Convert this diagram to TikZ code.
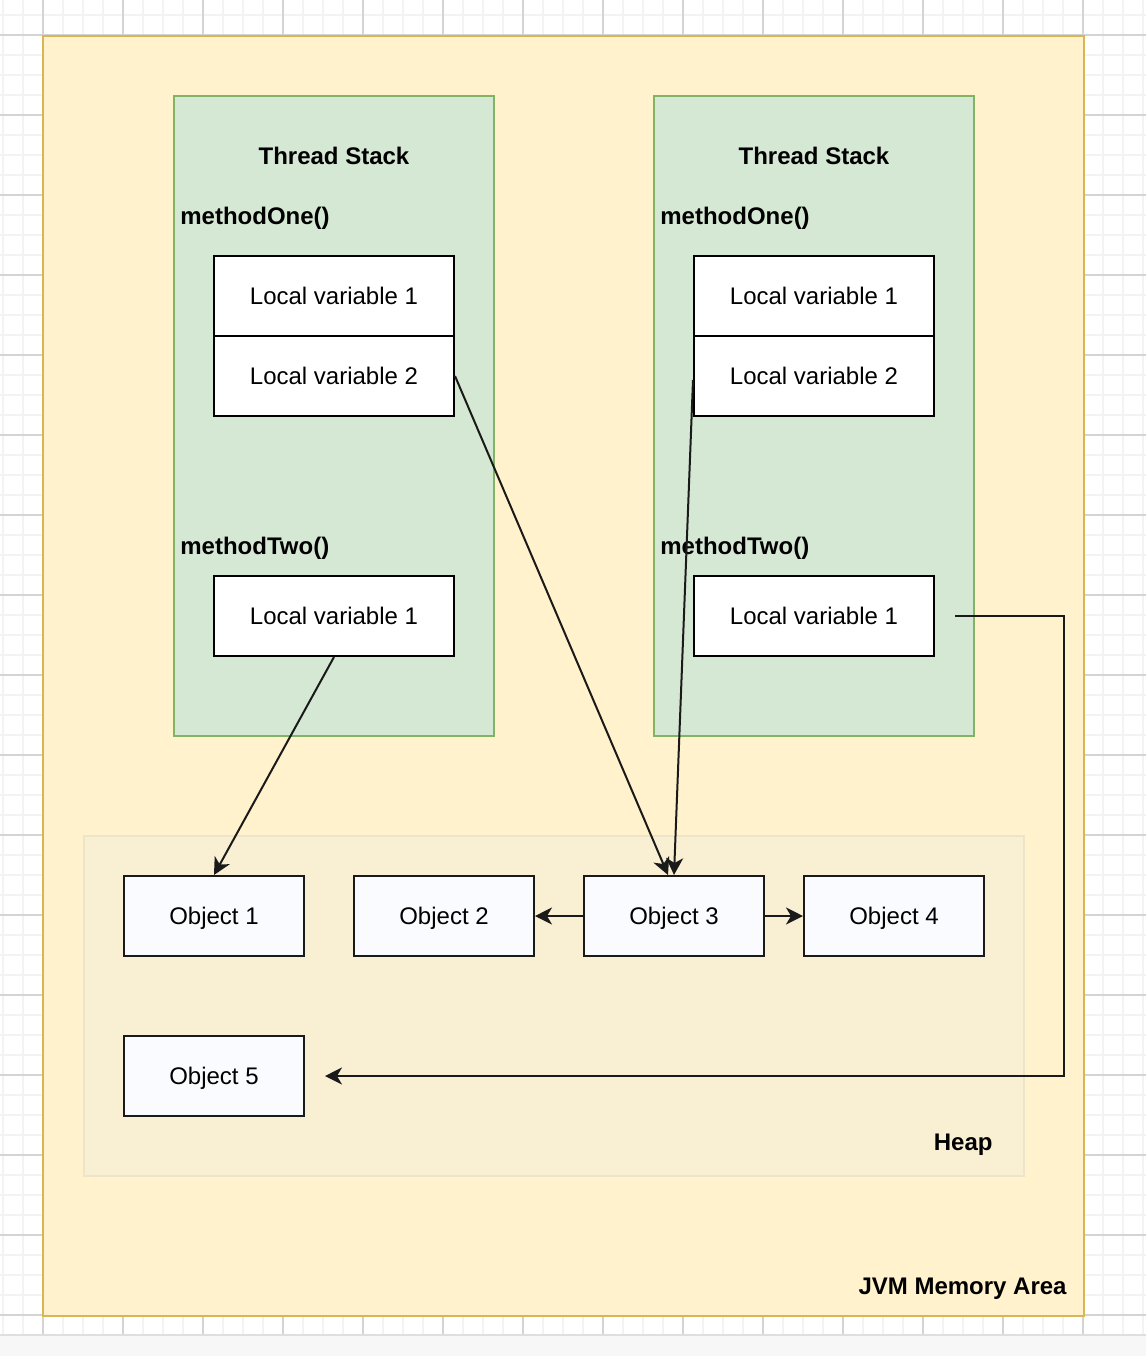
\documentclass[tikz,border=0pt]{standalone}
\usepackage{fontspec}
\setmainfont{Liberation Sans}
\usetikzlibrary{arrows.meta}

\definecolor{jvmfill}{HTML}{FFF2CC}
\definecolor{jvmline}{HTML}{D6B656}
\definecolor{stackfill}{HTML}{D5E8D4}
\definecolor{stackline}{HTML}{82B366}
\definecolor{heapfill}{HTML}{F9EFD3}
\definecolor{heapline}{HTML}{EDE4CA}
\definecolor{objfill}{HTML}{FAFBFF}
\definecolor{objline}{HTML}{1A1A1A}
\definecolor{minorgrid}{HTML}{F3F3F3}
\definecolor{majorgrid}{HTML}{D4D4D4}

\begin{document}
\begin{tikzpicture}[x=0.5pt,y=-0.5pt,
    font=\fontsize{12pt}{14pt}\selectfont,
    varbox/.style={draw=black,fill=white,line width=1pt,minimum width=120pt,minimum height=40pt,inner sep=0pt,text height=8.6pt,text depth=0pt},
    objbox/.style={draw=objline,fill=objfill,line width=1pt,minimum width=90pt,minimum height=40pt,inner sep=0pt,text height=8.6pt,text depth=0pt},
    title/.style={font=\fontsize{12pt}{14pt}\selectfont\bfseries,inner sep=0pt,text height=8.6pt,text depth=0pt},
    ref/.style={-{Stealth[length=8.5pt,width=8.5pt,inset=2.5pt]},line width=1pt,objline}]

    \useasboundingbox (0,0) rectangle (1146,1356);
    \fill[white] (0,0) rectangle (1146,1356);

    %draw grid
    \foreach \x in {3,23,...,1143} \draw[minorgrid,line width=1pt] (\x,0) -- (\x,1334);
    \foreach \y in {15,35,...,1334} \draw[minorgrid,line width=1pt] (0,\y) -- (1146,\y);
    \foreach \x in {43,123,...,1143} \draw[majorgrid,line width=0.6pt] (\x,0) -- (\x,1334);
    \foreach \y in {35,115,...,1334} \draw[majorgrid,line width=0.6pt] (0,\y) -- (1146,\y);
    \fill[gray!6] (0,1335) rectangle (1146,1356);
    \draw[gray!25,line width=0.6pt] (0,1335) -- (1146,1335);

    %draw areas
    \draw[jvmline,fill=jvmfill,line width=1pt] (43,36) rectangle (1084,1316);
    \draw[stackline,fill=stackfill,line width=1pt] (174,96) rectangle (494,736);
    \draw[stackline,fill=stackfill,line width=1pt] (654,96) rectangle (974,736);
    \draw[heapline,fill=heapfill,line width=1pt] (84,836) rectangle (1024,1176);

    %draw area labels
    \node[title] (stackA) at (334,156) {Thread Stack};
    \node[title] (stackB) at (814,156) {Thread Stack};
    \node[title,anchor=west] (oneA) at (180,216) {methodOne()};
    \node[title,anchor=west] (oneB) at (660,216) {methodOne()};
    \node[title,anchor=west] (twoA) at (180,546) {methodTwo()};
    \node[title,anchor=west] (twoB) at (660,546) {methodTwo()};
    \node[title,anchor=east] (heap) at (993,1142) {Heap};
    \node[title,anchor=east] (jvm) at (1067,1286) {JVM Memory Area};

    %draw local variables
    \node[varbox] (lvA1) at (334,296) {Local variable 1};
    \node[varbox] (lvA2) at (334,376) {Local variable 2};
    \node[varbox] (lvA3) at (334,616) {Local variable 1};
    \node[varbox] (lvB1) at (814,296) {Local variable 1};
    \node[varbox] (lvB2) at (814,376) {Local variable 2};
    \node[varbox] (lvB3) at (814,616) {Local variable 1};

    %draw objects
    \node[objbox] (obj1) at (214,916) {Object 1};
    \node[objbox] (obj2) at (444,916) {Object 2};
    \node[objbox] (obj3) at (674,916) {Object 3};
    \node[objbox] (obj4) at (894,916) {Object 4};
    \node[objbox] (obj5) at (214,1076) {Object 5};

    %draw references
    \coordinate (bend) at (1064,1076);
    \draw[ref] (lvA2.east) -- ([xshift=-3pt]obj3.north);
    \draw[ref] ([yshift=-2pt]lvB2.west) -- (obj3.north);
    \draw[ref] (lvA3.south) -- (obj1.north);
    \draw[ref] ([xshift=10pt]lvB3.east) -| (bend) -- ([xshift=10pt]obj5.east);
    \draw[ref] (obj3.west) -- (obj2.east);
    \draw[ref] (obj3.east) -- (obj4.west);

\end{tikzpicture}
\end{document}
